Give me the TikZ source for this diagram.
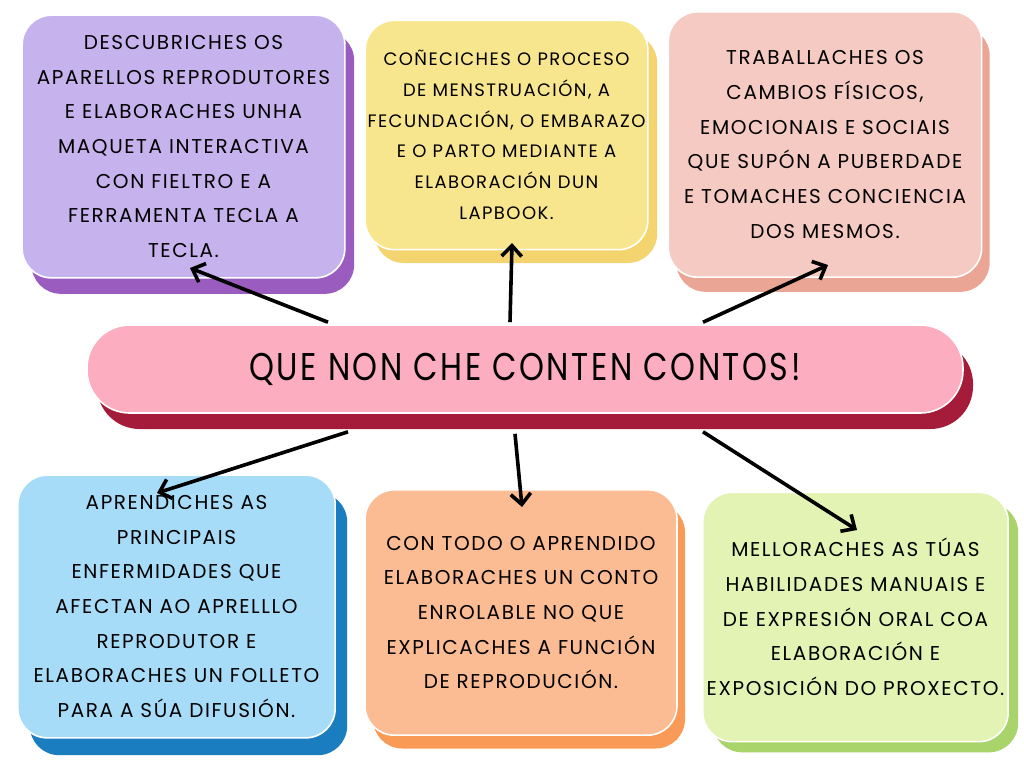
\documentclass[tikz,border=0pt]{standalone}
\usepackage{fontspec}
\setmainfont{Poppins}[LetterSpace=8]
\usetikzlibrary{arrows.meta,shadows,calc}

\definecolor{lilacF}{HTML}{C6B3EE}
\definecolor{lilacS}{HTML}{9A5CBF}
\definecolor{lemonF}{HTML}{F8E68E}
\definecolor{lemonS}{HTML}{F3D46E}
\definecolor{salmonF}{HTML}{F5CAC2}
\definecolor{salmonS}{HTML}{EBA595}
\definecolor{roseF}{HTML}{FCAEC0}
\definecolor{roseS}{HTML}{A51C3B}
\definecolor{skyF}{HTML}{A7DCF8}
\definecolor{skyS}{HTML}{1A7DC0}
\definecolor{peachF}{HTML}{FBBB93}
\definecolor{peachS}{HTML}{F99A57}
\definecolor{limeF}{HTML}{E2F3B4}
\definecolor{limeS}{HTML}{A8D46B}

\begin{document}
\begin{tikzpicture}[x=0.75pt,y=-0.75pt,>={Straight Barb[length=8pt,width=15pt]}]
	\tikzstyle{card}=[rectangle, rounded corners=22pt, draw=white, line width=1.2pt, align=center, inner sep=0pt, font=\fontsize{15}{26}\selectfont]
	\tikzstyle{link}=[->, line width=2.7pt, black]

	\useasboundingbox (0,0) rectangle (1024,768);
	\fill[white] (0,0) rectangle (1024,768);

	% centre
	\node[card, rounded corners=32pt, fill=roseF, minimum width=657pt, minimum height=66pt,
		drop shadow={shadow xshift=7.5pt, shadow yshift=-12pt, fill=roseS, opacity=1}] (bar) at (525,369)
		{\raisebox{-3pt}{\scalebox{0.82}[1]{\fontsize{29}{30}\selectfont QUE NON CHE CONTEN CONTOS!}}};

	% top row
	\node[card, fill=lilacF, minimum width=242pt, minimum height=197pt,
		drop shadow={shadow xshift=7pt, shadow yshift=-12pt, fill=lilacS, opacity=1}] (repro) at (183.5,146.5)
		{DESCUBRICHES OS\\APARELLOS REPRODUTORES\\E ELABORACHES UNHA\\MAQUETA INTERACTIVA\\CON FIELTRO E A\\FERRAMENTA TECLA A\\TECLA.};
	\node[card, fill=lemonF, minimum width=212pt, minimum height=172pt, font=\fontsize{13.5}{23}\selectfont,
		drop shadow={shadow xshift=7pt, shadow yshift=-10pt, fill=lemonS, opacity=1}] (lapbook) at (506.5,135)
		{COÑECICHES O PROCESO\\DE MENSTRUACIÓN, A\\FECUNDACIÓN, O EMBARAZO\\E O PARTO MEDIANTE A\\ELABORACIÓN DUN\\LAPBOOK.};
	\node[card, fill=salmonF, minimum width=235pt, minimum height=199pt,
		drop shadow={shadow xshift=6pt, shadow yshift=-11pt, fill=salmonS, opacity=1}] (puberty) at (825,144.5)
		{TRABALLACHES OS\\CAMBIOS FÍSICOS,\\EMOCIONAIS E SOCIAIS\\QUE SUPÓN A PUBERDADE\\E TOMACHES CONCIENCIA\\DOS MESMOS.};

	% bottom row
	\node[card, fill=skyF, minimum width=238pt, minimum height=197pt,
		drop shadow={shadow xshift=9pt, shadow yshift=-13pt, fill=skyS, opacity=1}] (leaflet) at (176.5,606.5)
		{APRENDICHES AS\\PRINCIPAIS\\ENFERMIDADES QUE\\AFECTAN AO APRELLLO\\REPRODUTOR E\\ELABORACHES UN FOLLETO\\PARA A SÚA DIFUSIÓN.};
	\node[card, fill=peachF, minimum width=234pt, minimum height=184pt,
		drop shadow={shadow xshift=6pt, shadow yshift=-10pt, fill=peachS, opacity=1}] (story) at (521,612.5)
		{CON TODO O APRENDIDO\\ELABORACHES UN CONTO\\ENROLABLE NO QUE\\EXPLICACHES A FUNCIÓN\\DE REPRODUCIÓN.};
	\node[card, fill=limeF, minimum width=229pt, minimum height=187pt,
		drop shadow={shadow xshift=7.5pt, shadow yshift=-8pt, fill=limeS, opacity=1}] (skills) at (855.5,617)
		{MELLORACHES AS TÚAS\\HABILIDADES MANUAIS E\\DE EXPRESIÓN ORAL COA\\ELABORACIÓN E\\EXPOSICIÓN DO PROXECTO.};

	% arrow ends
	\coordinate (t1) at (190,268);
	\coordinate (t2) at (512,243);
	\coordinate (t3) at (828,265);
	\coordinate (t4) at (157,493);
	\coordinate (t5) at (522,507);
	\coordinate (t6) at (857,530);

	\draw[link] ($(bar.north)+(-197,-2)$) -- (t1);
	\draw[link] ($(bar.north)+(-15,-2)$) -- (t2);
	\draw[link] ($(bar.north)+(178,-2)$) -- (t3);

	\draw[link] ($(bar.south)+(-177,18)$) -- (t4);
	\draw[link] ($(bar.south)+(-10,20)$) -- (t5);
	\draw[link] ($(bar.south)+(178,18)$) -- (t6);
\end{tikzpicture}
\end{document}
